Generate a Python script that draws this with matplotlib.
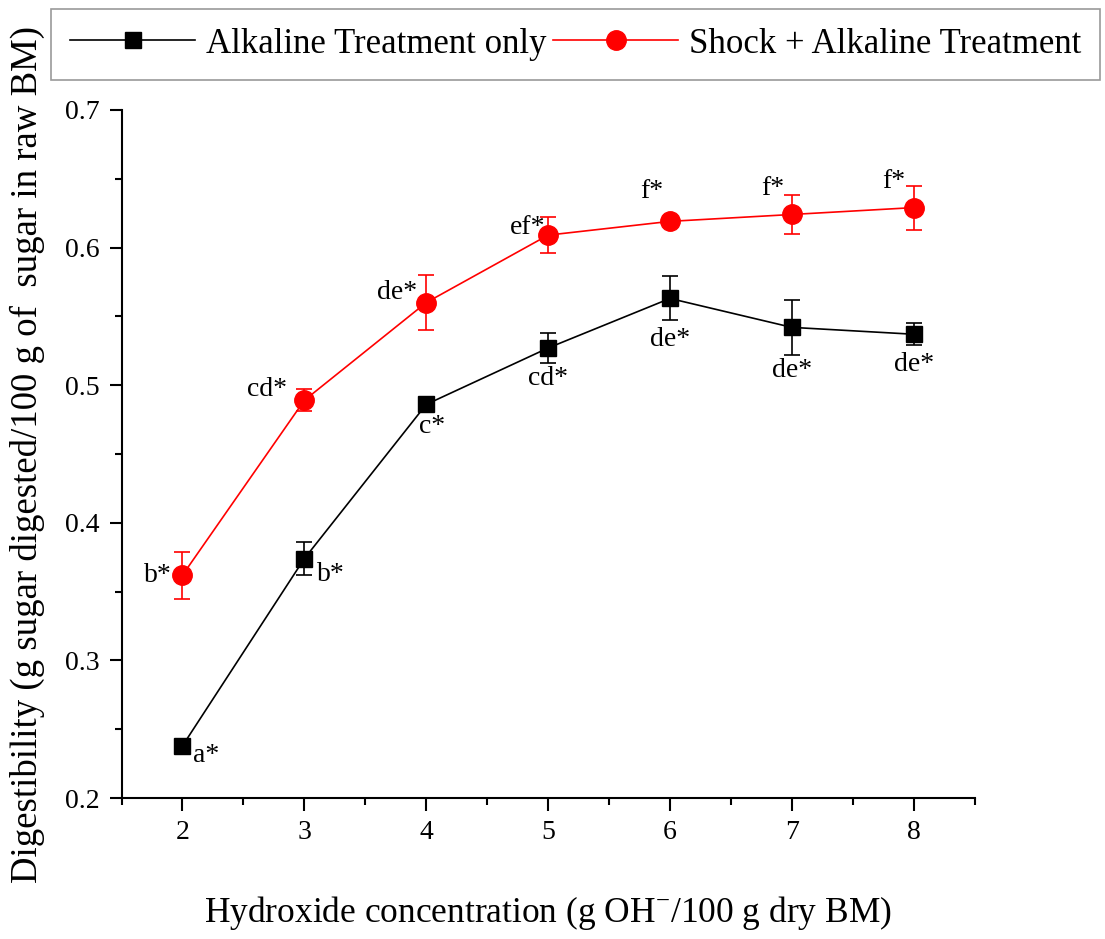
import numpy as np
import matplotlib.pyplot as plt
from matplotlib.ticker import MultipleLocator
from matplotlib.lines import Line2D

plt.rcParams['font.family'] = ['Liberation Serif', 'DejaVu Serif']

# dados
conc = [2, 3, 4, 5, 6, 7, 8]
alc = [0.238, 0.374, 0.486, 0.527, 0.563, 0.542, 0.537]
alc_err = [0.0, 0.012, 0.003, 0.011, 0.016, 0.020, 0.008]
choque = [0.362, 0.489, 0.560, 0.609, 0.619, 0.624, 0.629]
choque_err = [0.017, 0.008, 0.020, 0.013, 0.003, 0.014, 0.016]
letras_alc = ['a*', 'b*', 'c*', 'cd*', 'de*', 'de*', 'de*']
letras_choque = ['b*', 'cd*', 'de*', 'ef*', 'f*', 'f*', 'f*']

fig = plt.figure(figsize=(11.05, 9.39), dpi=100)
ax = fig.add_axes([0.110, 0.150, 0.772, 0.733])

ax.errorbar(conc, alc, yerr=alc_err, color='black', marker='s', markersize=11,
            lw=1.2, capsize=6, elinewidth=1.2, capthick=1.2)
ax.errorbar(conc, choque, yerr=choque_err, color='red', marker='o', markersize=14,
            lw=1.2, capsize=6, elinewidth=1.2, capthick=1.2)

# letras de significancia (deslocamento em pixels)
desl_alc = [(11, -10, 'left'), (13, -16, 'left'), (6, -22, 'center'), (0, -30, 'center'),
            (0, -41, 'center'), (0, -43, 'center'), (0, -30, 'center')]
desl_choque = [(-11, 0, 'right'), (-17, 11, 'right'), (-9, 10, 'right'), (-3, 8, 'right'),
               (-18, 30, 'center'), (-19, 26, 'center'), (-20, 26, 'center')]
for x, y, t, (dx, dy, ha) in zip(conc, alc, letras_alc, desl_alc):
    ax.annotate(t, (x, y), xytext=(dx, dy), textcoords='offset pixels',
                ha=ha, va='center', fontsize=20)
for x, y, t, (dx, dy, ha) in zip(conc, choque, letras_choque, desl_choque):
    ax.annotate(t, (x, y), xytext=(dx, dy), textcoords='offset pixels',
                ha=ha, va='center', fontsize=20)

ax.set_xlim(1.5, 8.5)
ax.set_ylim(0.2, 0.7)
ax.xaxis.set_major_locator(MultipleLocator(1))
ax.xaxis.set_minor_locator(MultipleLocator(0.5))
ax.yaxis.set_major_locator(MultipleLocator(0.1))
ax.yaxis.set_minor_locator(MultipleLocator(0.05))
ax.spines['top'].set_visible(False)
ax.spines['right'].set_visible(False)
for s in ['left', 'bottom']:
    ax.spines[s].set_linewidth(1.5)
ax.tick_params(which='both', direction='out', width=1.5, labelsize=20)
ax.tick_params(which='major', length=9, pad=7)
ax.tick_params(which='minor', length=5)

ax.set_xlabel('Hydroxide concentration (g OH$^{\\mathregular{-}}$/100 g dry BM)', fontsize=25.5, labelpad=35)
ax.set_ylabel('Digestibility (g sugar digested/100 g of  sugar in raw BM)', fontsize=26.5, labelpad=14)

# legenda sem as barras de erro
h1 = Line2D([], [], color='black', marker='s', markersize=11, lw=1.2)
h2 = Line2D([], [], color='red', marker='o', markersize=14, lw=1.2)
leg = fig.legend([h1, h2], ['Alkaline Treatment only', 'Shock + Alkaline Treatment'],
                 loc='center', bbox_to_anchor=(0.521, 0.953), ncol=2, fontsize=25,
                 handlelength=3.6, handletextpad=0.3, columnspacing=0.2,
                 fancybox=False, edgecolor='gray', borderpad=0.55, borderaxespad=0)
leg.get_frame().set_linewidth(1.2)

fig.savefig('out.png', dpi=100)
